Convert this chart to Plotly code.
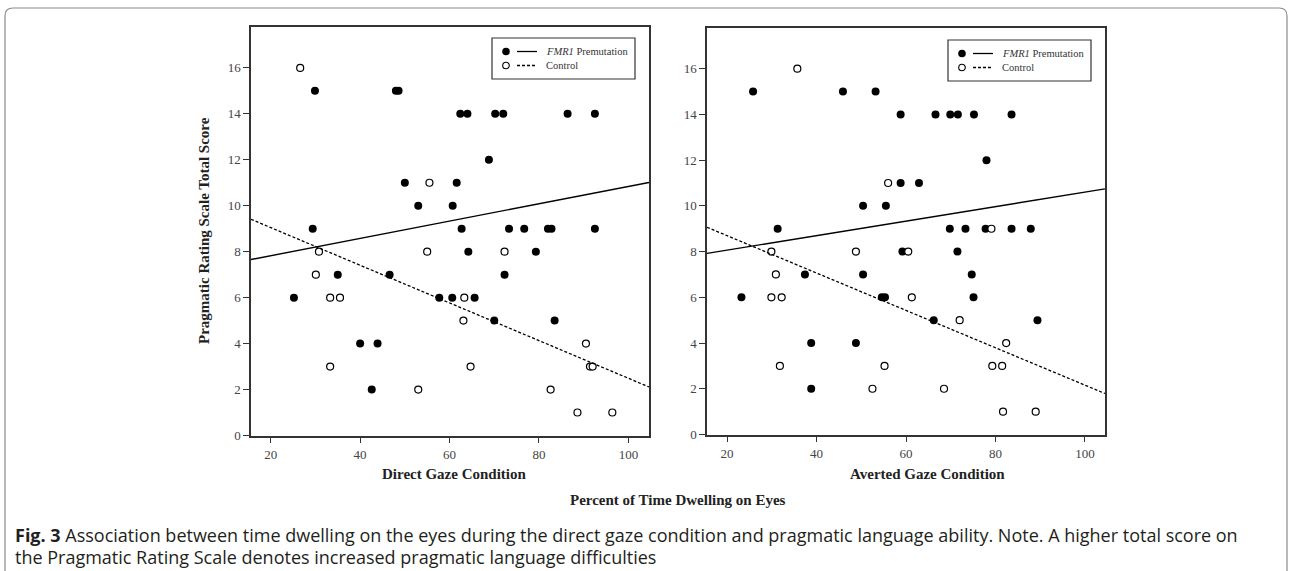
import plotly.graph_objects as go

W, H = 1292, 571

# ---------------- data ----------------
# Direct gaze condition
direct_fmr1_x = [29.9, 48.0, 48.6, 62.4, 64.0, 70.2, 72.0, 86.4, 92.5, 68.8, 50.0, 61.6, 53.0, 60.7,
                 29.4, 62.7, 73.3, 76.7, 82.0, 82.8, 92.5, 64.2, 79.3, 35.0, 46.6, 72.3, 25.2, 57.7,
                 60.6, 65.6, 70.0, 83.5, 40.0, 43.9, 42.6]
direct_fmr1_y = [15, 15, 15, 14, 14, 14, 14, 14, 14, 12, 11, 11, 10, 10,
                 9, 9, 9, 9, 9, 9, 9, 8, 8, 7, 7, 7, 6, 6,
                 6, 6, 5, 5, 4, 4, 2]
direct_ctrl_x = [26.6, 55.5, 30.8, 55.0, 72.3, 30.1, 33.3, 35.5, 63.3, 63.1, 90.5, 33.3, 64.7,
                 91.4, 92.0, 53.0, 82.6, 88.6, 96.4]
direct_ctrl_y = [16, 11, 8, 8, 8, 7, 6, 6, 6, 5, 4, 3, 3,
                 3, 3, 2, 2, 1, 1]

# Averted gaze condition
averted_fmr1_x = [25.8, 45.9, 53.2, 58.8, 66.6, 69.9, 71.6, 75.2, 83.6, 78.0, 58.8, 62.9, 50.4, 55.5,
                  31.3, 69.8, 73.3, 77.8, 83.6, 87.9, 59.2, 71.5, 37.4, 50.4, 74.7, 23.2, 54.6, 55.3,
                  75.1, 66.2, 89.4, 38.8, 48.8, 38.8]
averted_fmr1_y = [15, 15, 15, 14, 14, 14, 14, 14, 14, 12, 11, 11, 10, 10,
                  9, 9, 9, 9, 9, 9, 8, 8, 7, 7, 7, 6, 6, 6,
                  6, 5, 5, 4, 4, 2]
averted_ctrl_x = [35.7, 56.0, 79.1, 29.9, 48.8, 60.5, 30.9, 29.9, 32.2, 61.3, 72.0, 82.4, 31.8,
                  55.2, 79.3, 81.5, 52.5, 68.5, 81.7, 89.0]
averted_ctrl_y = [16, 11, 9, 8, 8, 8, 7, 6, 6, 6, 5, 4, 3,
                  3, 3, 3, 2, 2, 1, 1]

# Fit lines (intercept, slope)
direct_fmr1_fit = (7.07, 0.0377)
direct_ctrl_fit = (10.69, -0.082)
averted_fmr1_fit = (7.43, 0.0317)
averted_ctrl_fit = (10.33, -0.0817)

x_ticks = [20, 40, 60, 80, 100]
y_ticks = [0, 2, 4, 6, 8, 10, 12, 14, 16]
x_range_direct = [15.6, 104.6]
x_range_averted = [15.5, 104.5]
y_range = [0, 17.78]

panel_titles = ["Direct Gaze Condition", "Averted Gaze Condition"]
x_title = "Percent of Time Dwelling on Eyes"
y_title = "Pragmatic Rating Scale Total Score"
legend_labels = ["<i>FMR1</i> Premutation", "Control"]
caption_1 = ("<b>Fig. 3</b> Association between time dwelling on the eyes during the direct gaze "
             "condition and pragmatic language ability. Note. A higher total score on")
caption_2 = "the Pragmatic Rating Scale denotes increased pragmatic language difficulties"

# ---------------- helpers ----------------
def px(x):
    return x / W

def py(y):
    return 1 - y / H

SERIF = "Liberation Serif, Times New Roman, serif"
AX = "#333333"

fig = go.Figure()

def add_panel(xs_f, ys_f, xs_c, ys_c, fit_f, fit_c, xr, xa, ya):
    fig.add_trace(go.Scatter(x=xs_f, y=ys_f, mode="markers", xaxis=xa, yaxis=ya,
                             marker=dict(size=8, color="black", line=dict(width=0)),
                             showlegend=False, hoverinfo="skip"))
    fig.add_trace(go.Scatter(x=xs_c, y=ys_c, mode="markers", xaxis=xa, yaxis=ya,
                             marker=dict(size=7, color="white", line=dict(width=1.2, color="black")),
                             showlegend=False, hoverinfo="skip"))
    b0, b1 = fit_f
    fig.add_trace(go.Scatter(x=xr, y=[b0 + b1 * v for v in xr], mode="lines", xaxis=xa, yaxis=ya,
                             line=dict(color="black", width=1.4), showlegend=False, hoverinfo="skip"))
    c0, c1 = fit_c
    fig.add_trace(go.Scatter(x=xr, y=[c0 + c1 * v for v in xr], mode="lines", xaxis=xa, yaxis=ya,
                             line=dict(color="black", width=1.3, dash="3px,2px"),
                             showlegend=False, hoverinfo="skip"))

add_panel(direct_fmr1_x, direct_fmr1_y, direct_ctrl_x, direct_ctrl_y,
          direct_fmr1_fit, direct_ctrl_fit, x_range_direct, "x", "y")
add_panel(averted_fmr1_x, averted_fmr1_y, averted_ctrl_x, averted_ctrl_y,
          averted_fmr1_fit, averted_ctrl_fit, x_range_averted, "x2", "y2")

axis_common = dict(showgrid=False, zeroline=False, showline=True, linecolor=AX, linewidth=1.5,
                   mirror=True, ticks="outside", ticklen=6, tickwidth=1.3, tickcolor=AX,
                   tickfont=dict(family=SERIF, size=13, color="#444444"), automargin=False)

fig.update_layout(
    width=W, height=H, margin=dict(l=0, r=0, t=0, b=0),
    paper_bgcolor="white", plot_bgcolor="white",
    xaxis=dict(domain=[px(251), px(649)], range=x_range_direct, tickvals=x_ticks, anchor="y", **axis_common),
    yaxis=dict(domain=[py(435.5), py(27)], range=y_range, tickvals=y_ticks, anchor="x", **axis_common),
    xaxis2=dict(domain=[px(707), px(1105)], range=x_range_averted, tickvals=x_ticks, anchor="y2", **axis_common),
    yaxis2=dict(domain=[py(434.5), py(28)], range=y_range, tickvals=y_ticks, anchor="x2", **axis_common),
)

annotations = []
title_font = dict(family=SERIF, size=15, color="#222222")
annotations.append(dict(text="<b>%s</b>" % panel_titles[0], x=px(454), y=py(474), xref="paper", yref="paper",
                        showarrow=False, xanchor="center", yanchor="middle", font=title_font))
annotations.append(dict(text="<b>%s</b>" % panel_titles[1], x=px(927), y=py(474), xref="paper", yref="paper",
                        showarrow=False, xanchor="center", yanchor="middle", font=title_font))
annotations.append(dict(text="<b>%s</b>" % x_title, x=px(678), y=py(500), xref="paper", yref="paper",
                        showarrow=False, xanchor="center", yanchor="middle", font=title_font))
annotations.append(dict(text="<b>%s</b>" % y_title, x=px(204), y=py(231), xref="paper", yref="paper",
                        showarrow=False, xanchor="center", yanchor="middle", textangle=-90,
                        font=dict(family=SERIF, size=15, color="#222222")))

cap_font = dict(family="Open Sans, sans-serif", size=18, color="#231f20")
annotations.append(dict(text=caption_1, x=px(13), y=py(535), xref="paper", yref="paper",
                        showarrow=False, xanchor="left", yanchor="middle", font=cap_font))
annotations.append(dict(text=caption_2, x=px(13), y=py(557), xref="paper", yref="paper",
                        showarrow=False, xanchor="left", yanchor="middle", font=cap_font))

shapes = []
# outer rounded frame
x0, x1, yt, yb = px(5), px(1287), py(8), py(600)
rx, ry = 8 / W, 8 / H
shapes.append(dict(type="path", xref="paper", yref="paper",
                   path=f"M {x0},{yb} L {x0},{yt - ry} Q {x0},{yt} {x0 + rx},{yt} "
                        f"L {x1 - rx},{yt} Q {x1},{yt} {x1},{yt - ry} L {x1},{yb}",
                   line=dict(color="#8a8a8a", width=1.2)))

# legends
def add_legend(left, top, right, bottom):
    shapes.append(dict(type="rect", xref="paper", yref="paper", x0=px(left), x1=px(right),
                       y0=py(bottom), y1=py(top), line=dict(color=AX, width=1.2), fillcolor="white"))
    rows = [top + 13.5, top + 27.5]
    for i, ry_ in enumerate(rows):
        cx = left + 14
        r = 3.8 if i == 0 else 3.3
        shapes.append(dict(type="circle", xref="paper", yref="paper",
                           x0=px(cx - r), x1=px(cx + r), y0=py(ry_ + r), y1=py(ry_ - r),
                           fillcolor="black" if i == 0 else "white",
                           line=dict(color="black", width=0 if i == 0 else 1.1)))
        shapes.append(dict(type="line", xref="paper", yref="paper",
                           x0=px(left + 25), x1=px(left + 45), y0=py(ry_), y1=py(ry_),
                           line=dict(color="black", width=1.3, dash="solid" if i == 0 else "3px,2px")))
        annotations.append(dict(text=legend_labels[i], x=px(left + 52), y=py(ry_), xref="paper", yref="paper",
                                showarrow=False, xanchor="left", yanchor="middle",
                                font=dict(family=SERIF, size=10.5, color="#333333")))

add_legend(492, 38, 635, 79)
add_legend(948, 40, 1091, 81)

fig.update_layout(shapes=shapes, annotations=annotations)

fig.write_html("out.html", config={"displayModeBar": False},
               post_script="document.body.style.margin='0';")
